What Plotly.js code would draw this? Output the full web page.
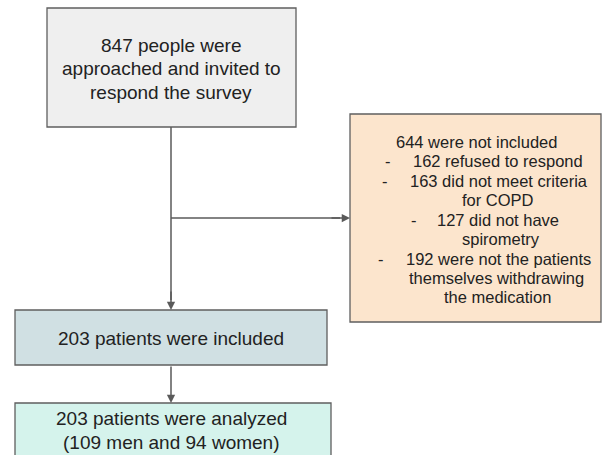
<!DOCTYPE html>
<html>
<head>
<meta charset="utf-8">
<script src="https://cdn.plot.ly/plotly-3.0.1.min.js"></script>
<style>html,body{margin:0;padding:0;background:#fff;}#chart{width:604px;height:455px;}</style>
</head>
<body>
<div id="chart"></div>
<script>
// ---- Flowchart content (text) ----
const startLines = ["847 people were", "approached and invited to", "respond the survey"];
const excludedHeader = "644 were not included";
const excludedReasons = [
  ["162 refused to respond"],
  ["163 did not meet criteria", "for COPD"],
  ["127 did not have", "spirometry"],
  ["192 were not the patients", "themselves withdrawing", "the medication"]
];
const includedLines = ["203 patients were included"];
const analyzedLines = ["203 patients were analyzed", "(109 men and 94 women)"];

// ---- Layout geometry (pixels, y downward) ----
const FONT = "Liberation Sans, Arial, sans-serif";
const TXT = "#222222";
const EDGE = "#5f5f5f";
const boxes = [
  {x0: 47, x1: 296, y0: 8, y1: 127, fill: "#efefef"},
  {x0: 350, x1: 601, y0: 114, y1: 322, fill: "#fce5cd"},
  {x0: 15, x1: 327, y0: 310, y1: 365, fill: "#d0e0e3"},
  {x0: 15, x1: 331, y0: 403, y1: 470, fill: "#d5f3ec"}
];

const shapes = boxes.map(b => ({
  type: "rect", xref: "x", yref: "y", x0: b.x0, x1: b.x1, y0: b.y0, y1: b.y1,
  fillcolor: b.fill, line: {color: EDGE, width: 1.3}, layer: "below"
}));

const annotations = [];
function textLine(t, x, y, size) {
  annotations.push({x: x, y: y, xref: "x", yref: "y", text: t, showarrow: false,
    xanchor: "center", yanchor: "middle", font: {family: FONT, size: size, color: TXT}});
}
function arrow(x0, y0, x1, y1) {
  annotations.push({x: x1, y: y1, ax: x0, ay: y0, xref: "x", yref: "y", axref: "x", ayref: "y",
    text: "", showarrow: true, arrowhead: 2, arrowsize: 1.1, arrowwidth: 1.5, arrowcolor: "#5a5a5a",
    standoff: 0, startstandoff: 0});
}

// top box
const topY = [45, 68, 92];
startLines.forEach((t, i) => textLine(t, 171, topY[i], 19));

// exclusion box
textLine(excludedHeader, 476, 142, 16.5);
const reasonY = [[161], [181, 200], [220, 239], [259, 278, 297]];
const reasonX = [[498], [499, 498], [498, 501], [498, 496, 497]];
const dashX = [388, 385, 414, 381];
excludedReasons.forEach((lines, i) => {
  textLine("-", dashX[i], reasonY[i][0], 16.5);
  lines.forEach((t, j) => textLine(t, reasonX[i][j], reasonY[i][j], 16.5));
});

// included box
textLine(includedLines[0], 171, 338, 19);
// analyzed box
const anY = [418, 442];
analyzedLines.forEach((t, i) => textLine(t, 171, anY[i], 19));

// connectors
shapes.push({type: "line", xref: "x", yref: "y", x0: 171, x1: 171, y0: 127, y1: 300,
  line: {color: "#5a5a5a", width: 1.5}});
arrow(171, 290, 171, 310);
shapes.push({type: "line", xref: "x", yref: "y", x0: 171, x1: 340, y0: 218, y1: 218,
  line: {color: "#5a5a5a", width: 1.5}});
arrow(330, 218, 350, 218);
arrow(171, 365, 171, 403);

const layout = {
  width: 604, height: 455,
  margin: {l: 0, r: 0, t: 0, b: 0},
  paper_bgcolor: "#ffffff", plot_bgcolor: "#ffffff",
  xaxis: {range: [0, 604], visible: false, fixedrange: true},
  yaxis: {range: [455, 0], visible: false, fixedrange: true},
  shapes: shapes, annotations: annotations, showlegend: false
};
Plotly.newPlot("chart", [], layout, {staticPlot: true, displayModeBar: false});
</script>
</body>
</html>
